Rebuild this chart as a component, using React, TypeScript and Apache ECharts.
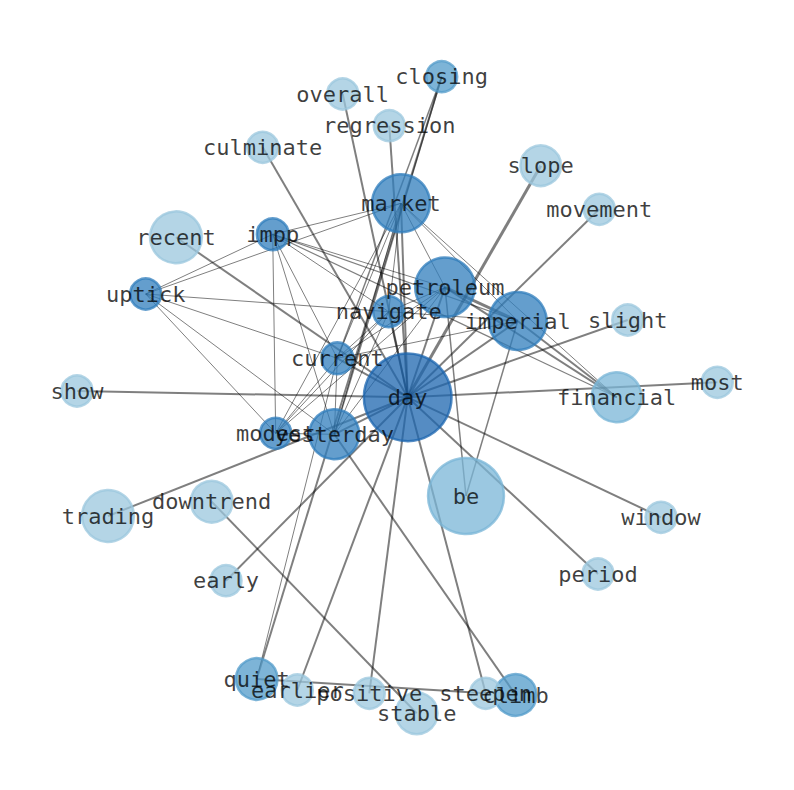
import { useEffect, useRef } from 'react'
import * as echarts from 'echarts'

// words, their position in the picture, frequency (circle area) and shade level
const words = [
  'day', 'be', 'petroleum', 'market', 'imperial', 'recent', 'trading', 'financial',
  'yesterday', 'stable', 'downtrend', 'quiet', 'climb', 'slope', 'impp', 'uptick',
  'current', 'navigate', 'modest', 'closing', 'overall', 'regression', 'culminate',
  'movement', 'slight', 'most', 'show', 'window', 'period', 'early', 'earlier',
  'positive', 'steepen',
]
const posX = [
  407.7, 466, 445, 401, 517.7, 176, 108, 616.7,
  334.3, 416.7, 211.7, 256.7, 515.7, 540.7, 272.7, 145.7,
  337.3, 388.7, 275.7, 441.7, 342.7, 389.3, 262.7,
  599.3, 627.7, 717.3, 77, 661, 598, 226, 297.3,
  369.3, 485.7,
]
const posY = [
  397.3, 496, 287.3, 203.3, 321, 237.3, 516, 397.3,
  434.3, 713.3, 501.7, 679, 695, 165.7, 234.3, 294,
  358.3, 311.7, 433.3, 76.7, 94, 125.7, 147.3,
  209.3, 320, 382.3, 391, 517.3, 574, 580.7, 690,
  693.3, 693.3,
]
const freq = [
  8, 6, 3.7, 3.5, 3.5, 2.8, 2.8, 2.6,
  2.6, 1.8, 1.8, 1.8, 1.8, 1.7, 1.05, 1,
  1.05, 1, 1, 1, 1, 1, 1,
  1, 1, 1, 1, 1, 1, 1, 1,
  1, 1,
]
const level = [
  4, 1, 3, 3, 3, 0, 0, 1,
  3, 0, 0, 2, 2, 0, 3, 3,
  3, 3, 3, 2, 0, 0, 0,
  0, 0, 0, 0, 0, 0, 0, 0,
  0, 0,
]

// links: source, target, weight
const linkSource = [
  'day', 'day', 'day', 'day', 'day', 'day', 'day', 'day', 'day', 'day', 'day',
  'day', 'day', 'day', 'day', 'day', 'day', 'day', 'day', 'day', 'day', 'day',
  'closing', 'closing', 'closing', 'petroleum', 'petroleum', 'petroleum', 'imperial', 'imperial',
  'yesterday', 'downtrend', 'quiet', 'quiet',
  'impp', 'impp', 'impp', 'impp', 'impp', 'impp', 'impp', 'impp', 'impp',
  'uptick', 'uptick', 'uptick', 'uptick', 'uptick',
  'market', 'market', 'market', 'market', 'market', 'market', 'market',
  'navigate', 'navigate', 'navigate', 'navigate', 'navigate',
  'current', 'current', 'current', 'current',
  'modest', 'modest', 'yesterday',
]
const linkTarget = [
  'show', 'most', 'slight', 'movement', 'slope', 'window', 'period', 'early', 'earlier', 'positive', 'steepen',
  'overall', 'regression', 'culminate', 'recent', 'trading', 'market', 'petroleum', 'imperial', 'yesterday', 'current', 'navigate',
  'current', 'yesterday', 'quiet', 'imperial', 'financial', 'be', 'financial', 'be',
  'climb', 'stable', 'steepen', 'current',
  'market', 'uptick', 'navigate', 'current', 'modest', 'yesterday', 'petroleum', 'imperial', 'financial',
  'market', 'navigate', 'current', 'modest', 'yesterday',
  'navigate', 'current', 'modest', 'yesterday', 'petroleum', 'imperial', 'financial',
  'current', 'modest', 'yesterday', 'petroleum', 'imperial',
  'modest', 'yesterday', 'petroleum', 'imperial',
  'yesterday', 'petroleum', 'petroleum',
]
const linkWeight = [
  2, 2, 2, 2, 3, 2, 2, 2, 2, 2, 2,
  2, 2, 2, 2, 2, 2, 2, 2, 2, 2, 2,
  1.5, 1.5, 2, 3, 2, 1.5, 2, 1.5,
  2, 2, 2, 1,
  1, 1, 1, 1, 1, 1, 1, 1.2, 1.2,
  1, 1, 1, 1, 1,
  1, 1, 1, 1, 1, 1, 1,
  1, 1, 1, 1, 1,
  1, 1, 1, 1,
  1, 1, 1,
]

const shades = ['155,199,222', '122,182,215', '82,155,202', '48,125,188', '28,102,175']

export default function App() {
  const chartRef = useRef<HTMLDivElement>(null)

  useEffect(() => {
    if (!chartRef.current) return
    const chart = echarts.init(chartRef.current, null, { renderer: 'svg' })

    const nodes = words.map((w, i) => ({
      name: w,
      value: [posX[i], posY[i]],
      symbolSize: 31 * Math.sqrt(freq[i]),
      itemStyle: {
        color: `rgba(${shades[level[i]]},0.75)`,
        borderColor: `rgba(${shades[level[i]]},0.75)`,
        borderWidth: 2.5,
      },
    }))

    const links = linkSource.map((s, i) => ({
      source: s,
      target: linkTarget[i],
      lineStyle: { width: linkWeight[i] },
    }))

    const option: echarts.EChartsOption = {
      animation: false,
      backgroundColor: '#ffffff',
      grid: { left: 0, right: 0, top: 0, bottom: 0 },
      xAxis: { type: 'value', min: 0, max: 794, show: false },
      yAxis: { type: 'value', min: 0, max: 790, inverse: true, show: false },
      series: [
        {
          type: 'graph',
          coordinateSystem: 'cartesian2d',
          layout: 'none',
          silent: true,
          data: nodes,
          links: links,
          lineStyle: { color: 'rgba(0,0,0,0.5)', opacity: 1, curveness: 0 },
          label: {
            show: true,
            position: 'inside',
            fontFamily: 'DejaVu Sans Mono',
            fontSize: 22,
            color: 'rgba(0,0,0,0.75)',
          },
          emphasis: { disabled: true },
        },
      ],
    }

    chart.setOption(option)

    return () => {
      chart.dispose()
    }
  }, [])

  return (
    <div
      ref={chartRef}
      style={{ position: 'fixed', left: 0, top: 0, width: '794px', height: '790px' }}
    />
  )
}
